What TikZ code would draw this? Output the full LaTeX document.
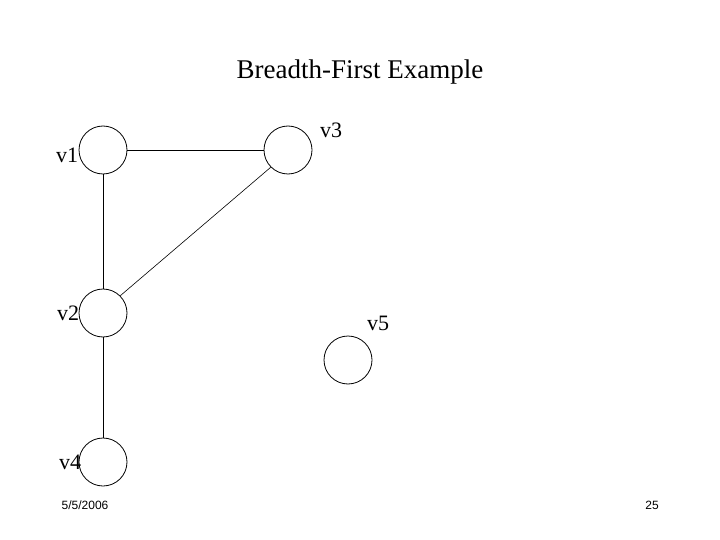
\documentclass[tikz,border=0pt]{standalone}
\usepackage{fontspec}
\setmainfont{Liberation Serif}
\newfontfamily\footfont{Liberation Sans}
\begin{document}
\begin{tikzpicture}[x=1pt,y=-1pt,
  vert/.style={draw,circle,minimum size=48pt,inner sep=0pt,line width=0.8pt},
  lbl/.style={font=\fontsize{22}{24}\selectfont,inner sep=0pt},
  edge/.style={line width=0.6pt}]
\useasboundingbox (0,0) rectangle (720,540);
\node at (360,72) {\fontsize{27}{30}\selectfont Breadth-First Example};
\node[vert] (v1) at (103,150) {};
\node[vert] (v3) at (288,150) {};
\node[vert] (v2) at (103,313) {};
\node[vert] (v4) at (103,462) {};
\node[vert] (v5) at (348,360) {};
\node[lbl] (l1) at (67,155) {v1};
\node[lbl] (l3) at (331,130) {v3};
\node[lbl] (l2) at (68,313) {v2};
\node[lbl] (l5) at (378,323) {v5};
\node[lbl] (l4) at (70,462) {v4};
\draw[edge] (v1) -- (v3);
\draw[edge] (v1) -- (v2);
\draw[edge] (v2) -- (v4);
\draw[edge] (v2.45) -- (v3.225);
\node (d) at (85,505) {\footfont\fontsize{12}{14}\selectfont 5/5/2006};
\node (p) at (652,505) {\footfont\fontsize{12}{14}\selectfont 25};
\end{tikzpicture}
\end{document}
